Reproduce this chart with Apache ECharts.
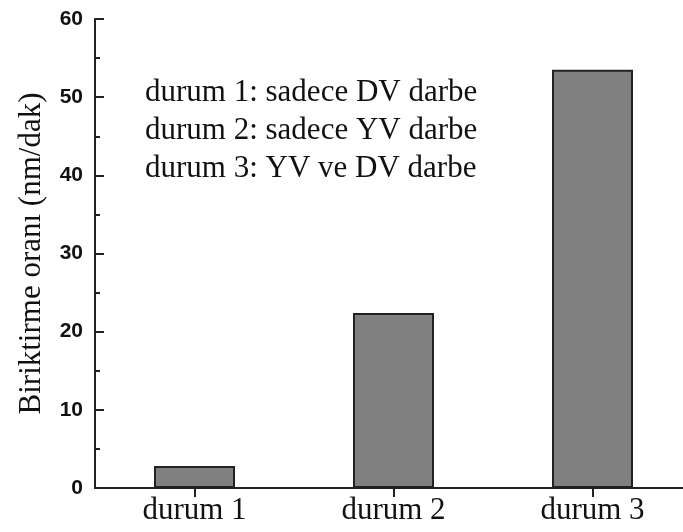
<!DOCTYPE html>
<html><head><meta charset="utf-8">
<script src="https://cdn.jsdelivr.net/npm/echarts@6/dist/echarts.min.js"></script>
<style>html,body{margin:0;padding:0;background:#fff}#c{width:683px;height:532px}</style>
</head><body><div id="c"></div>
<script>
const categories = ['durum 1', 'durum 2', 'durum 3'];
const values = [2.8, 22.4, 53.5];
const yTicks = [0, 10, 20, 30, 40, 50, 60];
const yTitle = 'Biriktirme oranı (nm/dak)';
const noteLines = ['durum 1: sadece DV darbe', 'durum 2: sadece YV darbe', 'durum 3: YV ve DV darbe'];

const serif = '"Liberation Serif", "Times New Roman", serif';
const sans = '"Liberation Sans", Arial, sans-serif';
const axisColor = '#222';
const chart = echarts.init(document.getElementById('c'), null, {renderer: 'canvas'});
const tickStyle = {show: true, inside: true, length: 9, lineStyle: {color: axisColor, width: 2}};
const minorStyle = {show: true, splitNumber: 2, length: 5, lineStyle: {color: axisColor, width: 2}};
chart.setOption({
  animation: false,
  backgroundColor: '#fff',
  grid: {left: 95, top: 19, width: 597, height: 469, containLabel: false, outerBoundsMode: 'none'},
  xAxis: [
    {type: 'category', data: categories, position: 'bottom',
     axisLine: {lineStyle: {color: axisColor, width: 2}},
     axisTick: Object.assign({alignWithLabel: true}, tickStyle),
     axisLabel: {fontFamily: serif, fontSize: 31, color: '#111', margin: 7}},
    {type: 'category', data: categories, position: 'top',
     axisLine: {show: true, lineStyle: {color: axisColor, width: 2}},
     axisTick: Object.assign({alignWithLabel: true}, tickStyle),
     axisLabel: {show: false}}
  ],
  yAxis: [
    {type: 'value', min: yTicks[0], max: yTicks[yTicks.length - 1], interval: 10, position: 'left',
     name: yTitle, nameLocation: 'middle', nameGap: 48,
     nameTextStyle: {fontFamily: serif, fontSize: 31, color: '#111'},
     axisLine: {show: true, lineStyle: {color: axisColor, width: 2}},
     axisTick: tickStyle, minorTick: minorStyle, splitLine: {show: false},
     axisLabel: {fontFamily: sans, fontWeight: 'bold', fontSize: 21, color: '#111', margin: 12}},
    {type: 'value', min: yTicks[0], max: yTicks[yTicks.length - 1], interval: 10, position: 'right',
     axisLine: {show: true, lineStyle: {color: axisColor, width: 2}},
     axisTick: tickStyle, minorTick: minorStyle, splitLine: {show: false},
     axisLabel: {show: false}}
  ],
  series: [{
    type: 'bar', data: values, barWidth: 81, xAxisIndex: 0, yAxisIndex: 0,
    itemStyle: {color: '#808080', borderColor: '#222', borderWidth: 2}
  }],
  graphic: noteLines.map((t, i) => ({
    type: 'text', left: 145, top: 77 + i * 38,
    style: {text: t, font: '31px ' + serif, fill: '#111'}
  }))
});
</script></body></html>
